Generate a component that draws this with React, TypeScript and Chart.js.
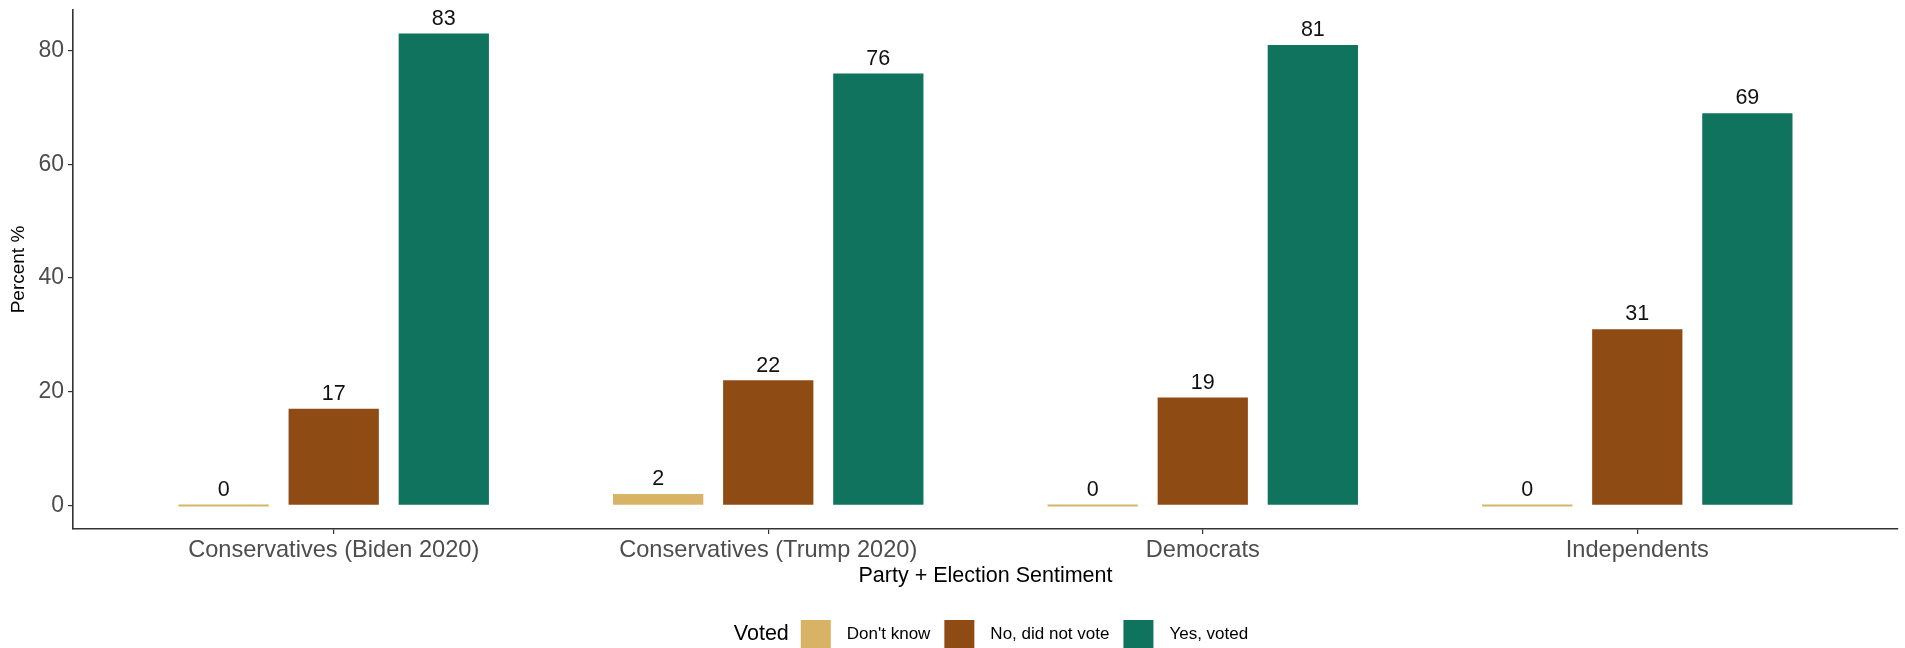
import { useEffect, useRef } from "react";
import { Chart, registerables } from "chart.js";

Chart.register(...registerables);

const categories = [
  "Conservatives (Biden 2020)",
  "Conservatives (Trump 2020)",
  "Democrats",
  "Independents",
];
const seriesNames = ["Don't know", "No, did not vote", "Yes, voted"];
const dontKnow = [0, 2, 0, 0];
const noVote = [17, 22, 19, 31];
const yesVote = [83, 76, 81, 69];
const yTicks = [0, 20, 40, 60, 80];
const seriesColors = ["#D8B365", "#8F4B14", "#10735E"];
const legendTitle = "Voted";
const xTitle = "Party + Election Sentiment";
const yTitle = "Percent %";

const FONT = "'Liberation Sans', Arial, Helvetica, sans-serif";

export default function App() {
  const ref = useRef<HTMLCanvasElement | null>(null);

  useEffect(() => {
    const canvas = ref.current;
    if (!canvas) return;
    Chart.defaults.font.family = FONT;

    const seriesValues = [dontKnow, noVote, yesVote];

    const labelPlugin = {
      id: "valueLabels",
      afterDatasetsDraw(chart: any) {
        const ctx = chart.ctx;
        ctx.save();
        ctx.font = `21.5px ${FONT}`;
        ctx.fillStyle = "#111";
        ctx.textAlign = "center";
        ctx.textBaseline = "bottom";
        chart.data.datasets.forEach((ds: any, i: number) => {
          const meta = chart.getDatasetMeta(i);
          meta.data.forEach((bar: any, j: number) => {
            const v = seriesValues[i][j];
            const top = Math.min(bar.y, bar.base);
            ctx.fillText(String(v), bar.x, top - 4);
          });
        });
        ctx.restore();
      },
    };

    const legendPlugin = {
      id: "ggLegend",
      afterDraw(chart: any) {
        const ctx = chart.ctx;
        ctx.save();
        const titleFont = `21.5px ${FONT}`;
        const itemFont = `17px ${FONT}`;
        const keySize = 30;
        const keyGap = 16;
        const itemGap = 14;
        const titleGap = 12;
        const cy = 634;
        ctx.font = titleFont;
        const tW = ctx.measureText(legendTitle).width;
        ctx.font = itemFont;
        const widths = seriesNames.map((n) => ctx.measureText(n).width);
        let total = tW + titleGap;
        widths.forEach((w, i) => {
          total += keySize + keyGap + w + (i < widths.length - 1 ? itemGap : 0);
        });
        let x = 991 - total / 2;
        ctx.textBaseline = "middle";
        ctx.textAlign = "left";
        ctx.fillStyle = "#000";
        ctx.font = titleFont;
        ctx.fillText(legendTitle, x, cy);
        x += tW + titleGap;
        ctx.font = itemFont;
        seriesNames.forEach((n, i) => {
          ctx.fillStyle = seriesColors[i];
          ctx.fillRect(x, cy - 14, keySize, keySize);
          x += keySize + keyGap;
          ctx.fillStyle = "#000";
          ctx.fillText(n, x, cy);
          x += widths[i] + itemGap;
        });
        ctx.restore();
      },
    };

    const chart = new Chart(canvas, {
      type: "bar",
      data: {
        datasets: seriesNames.map((name, i) => ({
          label: name,
          data: seriesValues[i].map((v, j) => ({ x: j + 1, y: v })),
          backgroundColor: seriesColors[i],
          borderWidth: 0,
          minBarLength: 2,
          categoryPercentage: 0.76,
          barPercentage: 0.82,
        })),
      },
      options: {
        animation: false,
        responsive: false,
        devicePixelRatio: 1,
        layout: { padding: { left: 0, right: 7, top: 10, bottom: 55 } },
        plugins: {
          legend: { display: false },
          tooltip: { enabled: false },
        },
        scales: {
          x: {
            type: "linear",
            offset: false,
            min: 0.4,
            max: 4.6,
            afterBuildTicks: (s: any) => {
              s.ticks = categories.map((_, i) => ({ value: i + 1 }));
            },
            afterFit: (s: any) => {
              s.height = 64;
              s.paddingLeft = 0;
              s.paddingRight = 0;
            },
            ticks: {
              autoSkip: false,
              maxRotation: 0,
              minRotation: 0,
              padding: 2,
              color: "#4D4D4D",
              font: { size: 23.6 },
              callback: (v: any) => categories[Math.round(Number(v)) - 1] ?? "",
            },
            grid: {
              display: true,
              offset: false,
              drawOnChartArea: false,
              drawTicks: true,
              tickLength: 5,
              color: "#333333",
              lineWidth: 1.2,
            },
            border: { display: true, color: "#333333", width: 1.6 },
            title: {
              display: true,
              text: xTitle,
              color: "#000",
              font: { size: 21.5 },
              padding: { top: 4, bottom: 4 },
            },
          },
          y: {
            min: -4.15,
            max: 87.15,
            afterBuildTicks: (s: any) => {
              s.ticks = yTicks.map((v) => ({ value: v }));
            },
            afterFit: (s: any) => {
              s.width = 73;
              s.paddingTop = 0;
              s.paddingBottom = 0;
            },
            ticks: {
              color: "#4D4D4D",
              font: { size: 23 },
              padding: 4,
            },
            grid: {
              display: true,
              drawOnChartArea: false,
              drawTicks: true,
              tickLength: 5,
              color: "#333333",
              lineWidth: 1.2,
            },
            border: { display: true, color: "#333333", width: 1.6 },
            title: {
              display: true,
              text: yTitle,
              color: "#000",
              font: { size: 19 },
              padding: { top: 7, bottom: 4 },
            },
          },
        },
      },
      plugins: [labelPlugin, legendPlugin],
    } as any);

    return () => chart.destroy();
  }, []);

  return (
    <div style={{ position: "absolute", left: 0, top: 0, width: 1905, height: 648, background: "#fff" }}>
      <canvas ref={ref} width={1905} height={648} style={{ display: "block" }} />
    </div>
  );
}
